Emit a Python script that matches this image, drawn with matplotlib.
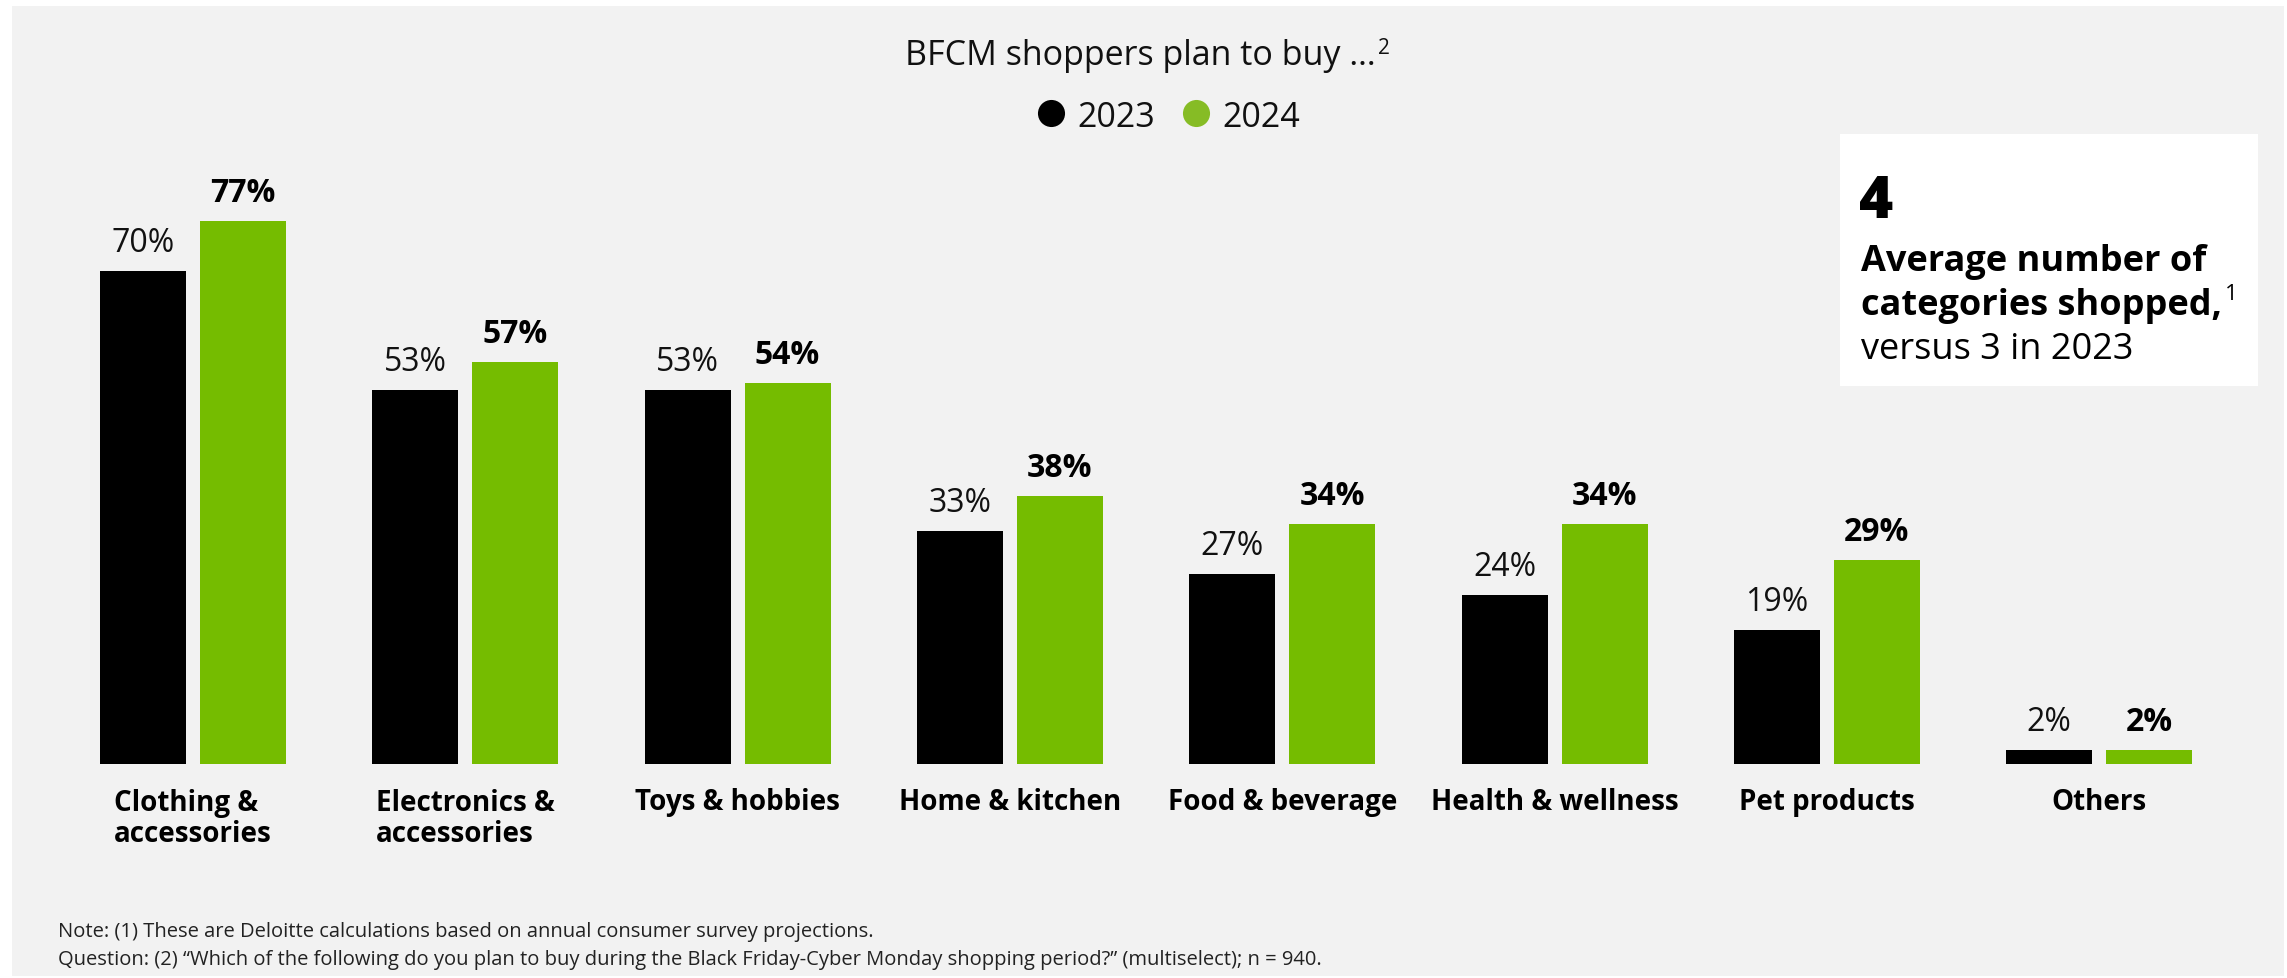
import matplotlib
matplotlib.use("Agg")
import matplotlib.pyplot as plt
import numpy as np
from matplotlib.patches import Rectangle
from matplotlib.transforms import blended_transform_factory

# ---- data ----
categories = ["Clothing &\naccessories", "Electronics &\naccessories", "Toys & hobbies",
              "Home & kitchen", "Food & beverage", "Health & wellness",
              "Pet products", "Others"]
values_2023 = [70, 53, 53, 33, 27, 24, 19, 2]
values_2024 = [77, 57, 54, 38, 34, 34, 29, 2]
years = ["2023", "2024"]

title = "BFCM shoppers plan to buy …"
title_note = "2"
callout_value = "4"
callout_lines = ["Average number of", "categories shopped,", "versus 3 in 2023"]
callout_note = "1"
note_lines = [
    "Note: (1) These are Deloitte calculations based on annual consumer survey projections.",
    "Question: (2) \u201cWhich of the following do you plan to buy during the Black Friday-Cyber Monday shopping period?\u201d (multiselect); n = 940.",
]

# ---- style ----
BLACK = "#000000"
GREEN = "#75BC00"
GREEN_DOT = "#86BC25"
PANEL = "#F2F2F2"
TEXT = "#111111"

W, H, DPI = 2287, 979, 100
plt.rcParams["font.family"] = ["Open Sans", "DejaVu Sans"]

fig = plt.figure(figsize=(W / DPI, H / DPI), dpi=DPI, facecolor="white")
renderer = fig.canvas.get_renderer()


def fx(px):
    return px / W


def fy(py):
    return 1 - py / H


def right_edge_px(text_artist):
    return text_artist.get_window_extent(renderer=renderer).x1


# grey panel behind everything
fig.add_artist(Rectangle((fx(12), fy(977)), fx(2284) - fx(12), fy(7) - fy(977),
                         transform=fig.transFigure, facecolor=PANEL,
                         edgecolor="none", zorder=0))

ax = fig.add_axes([0, 0, 1, 1])
ax.set_facecolor("none")
ax.axis("off")

# axis scaling: group spacing 1 unit, 1% of share per unit in y
group_px = 272.3
first_center_px = 193
px_per_pct = 7.05
base_from_bottom = H - 765
ax.set_xlim(-first_center_px / group_px, (W - first_center_px) / group_px)
ax.set_ylim(-base_from_bottom / px_per_pct, (H - base_from_bottom) / px_per_pct)

x = np.arange(len(categories))
bw = 86 / group_px
off = 50 / group_px

ax.bar(x - off, values_2023, width=bw, color=BLACK, zorder=2)
ax.bar(x + off, values_2024, width=bw, color=GREEN, zorder=2)

for xi, v in zip(x - off, values_2023):
    ax.annotate(f"{v}%", (xi, v), xytext=(0, 20), textcoords="offset pixels",
                ha="center", va="baseline", fontsize=23, color=TEXT)
for xi, v in zip(x + off, values_2024):
    ax.annotate(f"{v}%", (xi, v), xytext=(0, 20), textcoords="offset pixels",
                ha="center", va="baseline", fontsize=23, fontweight="bold",
                color=BLACK)

# category labels under each group (block centred, lines left-aligned)
tr = blended_transform_factory(ax.transData, fig.transFigure)
label_line_px = 32
for xi, lab in zip(x, categories):
    n_lines = lab.count("\n") + 1
    ax.text(xi, fy(810 + (n_lines - 1) * label_line_px), lab, transform=tr,
            ha="center", va="baseline", multialignment="left", fontsize=20,
            fontweight="bold", color=BLACK, linespacing=1.1)

# title with superscript note marker
t = fig.text(fx(1140), fy(65), title, ha="center", va="baseline",
             fontsize=24.5, color=TEXT)
fig.text(fx(right_edge_px(t) + 3), fy(54), title_note, ha="left", va="baseline",
         fontsize=15, color=TEXT)

# legend
for cx, tx, col, yr in [(1051, 1077, BLACK, years[0]), (1196, 1222, GREEN_DOT, years[1])]:
    fig.add_artist(plt.Line2D([fx(cx)], [fy(114)], marker="o", markersize=19.5,
                              markerfacecolor=col, markeredgecolor="none",
                              linestyle="none", transform=fig.transFigure))
    fig.text(fx(tx), fy(127), yr, ha="left", va="baseline", fontsize=24.5,
             color=TEXT)

# callout box
fig.add_artist(Rectangle((fx(1840), fy(387)), fx(2258) - fx(1840), fy(135) - fy(387),
                         transform=fig.transFigure, facecolor="white",
                         edgecolor="none", zorder=1))
fig.text(fx(1859), fy(218), callout_value, ha="left", va="baseline",
         fontsize=42, fontweight="heavy", color=BLACK, zorder=2)
fig.text(fx(1861), fy(271), callout_lines[0], ha="left", va="baseline",
         fontsize=26, fontweight="bold", color=BLACK, zorder=2)
c2 = fig.text(fx(1861), fy(315), callout_lines[1], ha="left", va="baseline",
              fontsize=26, fontweight="bold", color=BLACK, zorder=2)
fig.text(fx(right_edge_px(c2) + 3), fy(300), callout_note, ha="left",
         va="baseline", fontsize=16, color=BLACK, zorder=2)
fig.text(fx(1861), fy(359), callout_lines[2], ha="left", va="baseline",
         fontsize=26, color=BLACK, zorder=2)

# footnotes
fig.text(fx(58), fy(937), note_lines[0], ha="left", va="baseline",
         fontsize=14.5, color="#222222")
fig.text(fx(58), fy(965), note_lines[1], ha="left", va="baseline",
         fontsize=14.5, color="#222222")

fig.savefig("out.png", dpi=DPI, facecolor=fig.get_facecolor())
